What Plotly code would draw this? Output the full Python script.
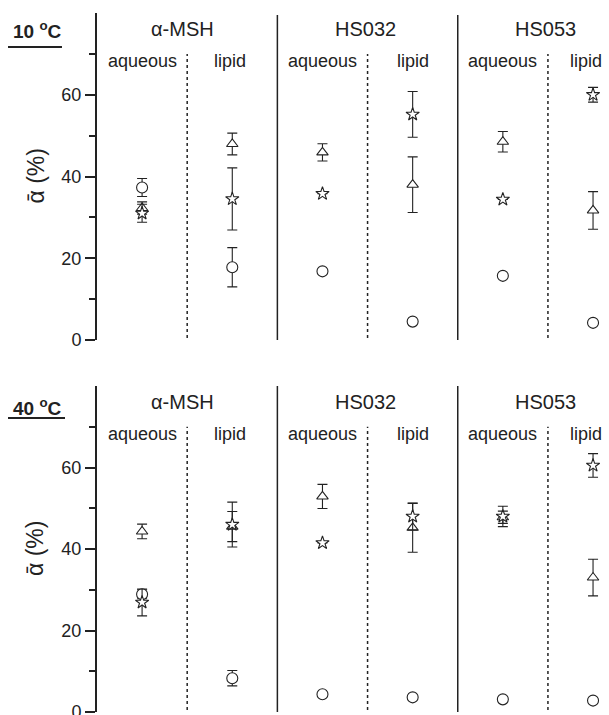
import plotly.graph_objects as go
from plotly.subplots import make_subplots

# ---------------- data ----------------
positions = [1, 2, 3, 4, 5, 6]
groups = ["α-MSH", "HS032", "HS053"]
group_pos = [1.45, 3.48, 5.47]
phases = ["aqueous", "lipid", "aqueous", "lipid", "aqueous", "lipid"]
phase_pos = [1.0, 1.98, 3.0, 4.0, 5.0, 5.92]
temps = ["10 <sup>o</sup>C", "40 <sup>o</sup>C"]

# 10 °C
circle_10 = [37.3, 17.8, 16.8, 4.5, 15.7, 4.2]
circle_10_err = [2.2, 4.8, 0, 0, 0, 0]
star_10 = [31.0, 34.5, 35.8, 55.2, 34.4, 60.0]
star_10_err = [2.2, 7.6, 0, 5.6, 0, 1.8]
tri_10 = [32.3, 47.95, 45.9, 38.0, 48.5, 31.7]
tri_10_err = [1.5, 2.65, 2.1, 6.8, 2.5, 4.6]

# 40 °C
circle_40 = [28.9, 8.3, 4.35, 3.6, 3.1, 2.8]
circle_40_err = [1.1, 1.9, 0, 0, 0, 0]
star_40 = [26.9, 46.0, 41.5, 48.0, 48.0, 60.5]
star_40_err = [3.3, 5.5, 0, 3.3, 2.5, 2.9]
tri_40 = [44.3, 45.5, 52.9, 45.2, 47.8, 33.0]
tri_40_err = [1.8, 3.7, 2.95, 6.0, 1.5, 4.5]

yticks = [0, 20, 40, 60]
yminor = [10, 30, 50, 70]

INK = "#222222"
FONT = "Liberation Sans, Arial, sans-serif"

fig = make_subplots(rows=2, cols=1, vertical_spacing=0.0)

panels = [
    (1, circle_10, circle_10_err, star_10, star_10_err, tri_10, tri_10_err),
    (2, circle_40, circle_40_err, star_40, star_40_err, tri_40, tri_40_err),
]

for row, c, ce, s, se, t, te in panels:
    for vals, errs, sym, size in [(c, ce, "circle", 11), (t, te, "triangle-up", 10), (s, se, "star", 10)]:
        fig.add_trace(go.Scatter(
            x=positions, y=vals, mode="markers",
            marker=dict(symbol=sym, size=size, color="white", line=dict(color=INK, width=1.1)),
            error_y=dict(type="data", array=errs, visible=True, color=INK, thickness=1.1, width=5),
            cliponaxis=False, showlegend=False, hoverinfo="skip",
        ), row=row, col=1)

H = 715
top_m, bot_m = 13, 3
plot_h = H - top_m - bot_m
top_dom = [(712 - 340) / plot_h, 1.0]
bot_dom = [0.0, (712 - 386) / plot_h]

axis_common = dict(
    range=[0, 80], tickvals=yticks, ticks="outside", ticklen=10, tickwidth=2,
    tickcolor=INK, showline=True, linecolor=INK, linewidth=2, showgrid=False,
    zeroline=False, tickfont=dict(family=FONT, size=18, color=INK),
    ticklabeloverflow="allow", automargin=False,
    minor=dict(tickvals=yminor, ticks="outside", ticklen=6, tickwidth=2, tickcolor=INK, showgrid=False),
)
fig.update_layout(
    yaxis=dict(domain=top_dom, **axis_common),
    yaxis2=dict(domain=bot_dom, **axis_common),
    xaxis=dict(range=[0.5, 6.177], visible=False, automargin=False),
    xaxis2=dict(range=[0.5, 6.177], visible=False, automargin=False),
)

shapes = []
annotations = []
for row, (yref, xref, solid_top, y_dom) in enumerate([("y", "x", 79.5, top_dom), ("y2", "x2", 80, bot_dom)]):
    for xs in [2.5, 4.5]:
        shapes.append(dict(type="line", xref=xref, yref=yref, x0=xs, x1=xs, y0=0, y1=solid_top,
                           line=dict(color=INK, width=1.5)))
    for xs in [1.5, 3.5, 5.5]:
        shapes.append(dict(type="line", xref=xref, yref=yref, x0=xs, x1=xs, y0=0.5, y1=70,
                           line=dict(color=INK, width=1.5, dash="dot")))
    for g, gx in zip(groups, group_pos):
        annotations.append(dict(text=g, x=gx, y=76, xref=xref, yref=yref, showarrow=False,
                                xanchor="center", yanchor="middle",
                                font=dict(family=FONT, size=20, color=INK)))
    for p, px in zip(phases, phase_pos):
        annotations.append(dict(text=p, x=px, y=68.2, xref=xref, yref=yref, showarrow=False,
                                xanchor="center", yanchor="middle",
                                font=dict(family=FONT, size=18, color=INK)))
    # y-axis title
    annotations.append(dict(text="\u1fb1 (%)", x=-0.121, y=40, xref="paper", yref=yref,
                            xanchor="center", yanchor="middle",
                            textangle=-90, showarrow=False,
                            font=dict(family=FONT, size=23, color=INK)))

# temperature labels with underline
for txt, ty, uy, ux1 in [(temps[0], 0.9757, 0.9514, -0.0684), (temps[1], 0.4363, 0.4206, -0.0625)]:
    annotations.append(dict(text="<b>" + txt + "</b>", x=-0.1162, y=ty, xref="paper", yref="paper",
                            xanchor="center", yanchor="middle",
                            showarrow=False, font=dict(family=FONT, size=19, color=INK)))
    shapes.append(dict(type="line", xref="paper", yref="paper", x0=-0.1738, x1=ux1, y0=uy, y1=uy,
                       line=dict(color=INK, width=2)))

fig.update_layout(
    width=609, height=H,
    margin=dict(l=97, r=0, t=top_m, b=bot_m, autoexpand=False),
    paper_bgcolor="white", plot_bgcolor="white",
    shapes=shapes, annotations=annotations, showlegend=False,
)

fig.write_html("out.html")
